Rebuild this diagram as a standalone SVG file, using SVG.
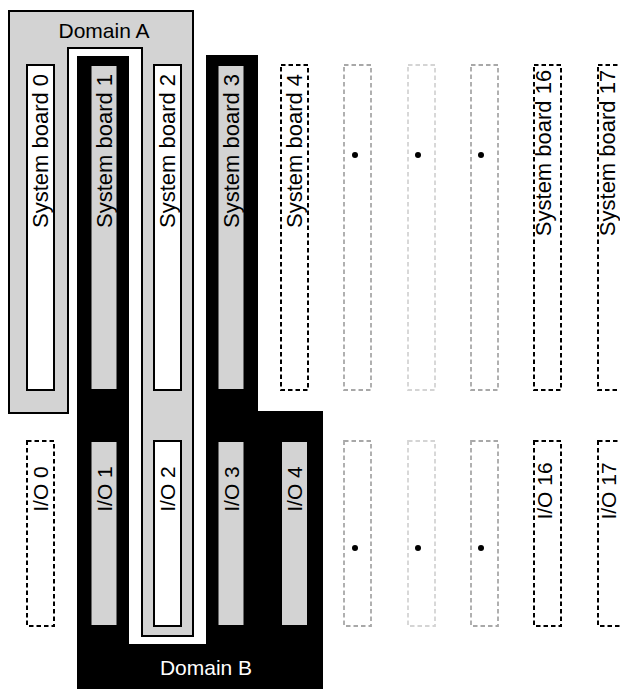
<svg xmlns="http://www.w3.org/2000/svg" width="620" height="689" viewBox="0 0 620 689">
<style>
text{font-family:"Liberation Sans",Arial,sans-serif;font-size:21px;fill:#000}
.lbl{text-anchor:middle}
.bl{font-size:22px}
.white{fill:#fff;stroke:#000;stroke-width:2}
.gray{fill:#d3d3d3;stroke:#000;stroke-width:2}
.dash{fill:none;stroke:#000;stroke-width:2;stroke-dasharray:4.5,3}
.dg1{fill:none;stroke:#a8a8a8;stroke-width:1.8;stroke-dasharray:4.5,3}
.dg2{fill:none;stroke:#d4d4d4;stroke-width:1.8;stroke-dasharray:4.5,3}
.dot{fill:#000}
</style>
<g id="domainA">
<path d="M9,11 H193 V636 H142 V48 H68 V413 H9 Z" fill="#d3d3d3" stroke="#000" stroke-width="2"/>
<text x="104" y="38" class="lbl">Domain A</text>
</g>
<g id="domainB">
<path d="M77,56 H129 V644 H206 V55 H258 V411 H323 V689 H77 Z" fill="#000"/>
<text x="206" y="675" class="lbl" style="fill:#fff">Domain B</text>
</g>
<g id="sb0"><rect x="27" y="65" width="27" height="325" class="white"/><text class="lbl bl" transform="translate(48,151) rotate(-90)">System board 0</text></g>
<g id="sb1"><rect x="90.5" y="65" width="27" height="325" class="gray"/><text class="lbl bl" transform="translate(111.5,151) rotate(-90)">System board 1</text></g>
<g id="sb2"><rect x="154" y="65" width="27" height="325" class="white"/><text class="lbl bl" transform="translate(175,151) rotate(-90)">System board 2</text></g>
<g id="sb3"><rect x="217.5" y="65" width="27" height="325" class="gray"/><text class="lbl bl" transform="translate(238.5,151) rotate(-90)">System board 3</text></g>
<g id="sb4"><rect x="281" y="65" width="27" height="325" class="dash"/><text class="lbl bl" transform="translate(301.5,151) rotate(-90)">System board 4</text></g>
<g id="sb5"><rect x="344" y="65" width="27" height="325" class="dg1"/><circle cx="355" cy="155" r="3" class="dot"/></g>
<g id="sb6"><rect x="408" y="65" width="27" height="325" class="dg2"/><circle cx="418" cy="155" r="3" class="dot"/></g>
<g id="sb7"><rect x="471" y="65" width="27" height="325" class="dg1"/><circle cx="481" cy="155" r="3" class="dot"/></g>
<g id="sb16"><rect x="534" y="65" width="27" height="325" class="dash"/><text class="lbl bl" transform="translate(551,153) rotate(-90)">System board 16</text></g>
<g id="sb17"><rect x="598" y="65" width="27" height="325" class="dash"/><text class="lbl bl" transform="translate(615,153) rotate(-90)">System board 17</text></g>
<g id="io0"><rect x="27" y="441" width="27" height="185" class="dash"/><text class="lbl" transform="translate(48,489) rotate(-90)">I/O 0</text></g>
<g id="io1"><rect x="90.5" y="441" width="27" height="185" class="gray"/><text class="lbl" transform="translate(111.5,489) rotate(-90)">I/O 1</text></g>
<g id="io2"><rect x="154" y="441" width="27" height="185" class="white"/><text class="lbl" transform="translate(175,489) rotate(-90)">I/O 2</text></g>
<g id="io3"><rect x="217.5" y="441" width="27" height="185" class="gray"/><text class="lbl" transform="translate(238.5,489) rotate(-90)">I/O 3</text></g>
<g id="io4"><rect x="281" y="441" width="27" height="185" class="gray"/><text class="lbl" transform="translate(301.5,489) rotate(-90)">I/O 4</text></g>
<g id="io5"><rect x="344" y="441" width="27" height="185" class="dg1"/><circle cx="355" cy="548" r="3" class="dot"/></g>
<g id="io6"><rect x="408" y="441" width="27" height="185" class="dg2"/><circle cx="418" cy="548" r="3" class="dot"/></g>
<g id="io7"><rect x="471" y="441" width="27" height="185" class="dg1"/><circle cx="481" cy="548" r="3" class="dot"/></g>
<g id="io16"><rect x="534" y="441" width="27" height="185" class="dash"/><text class="lbl" transform="translate(552,491) rotate(-90)">I/O 16</text></g>
<g id="io17"><rect x="598" y="441" width="27" height="185" class="dash"/><text class="lbl" transform="translate(616,491) rotate(-90)">I/O 17</text></g>
<g id="connectors"/>
</svg>
